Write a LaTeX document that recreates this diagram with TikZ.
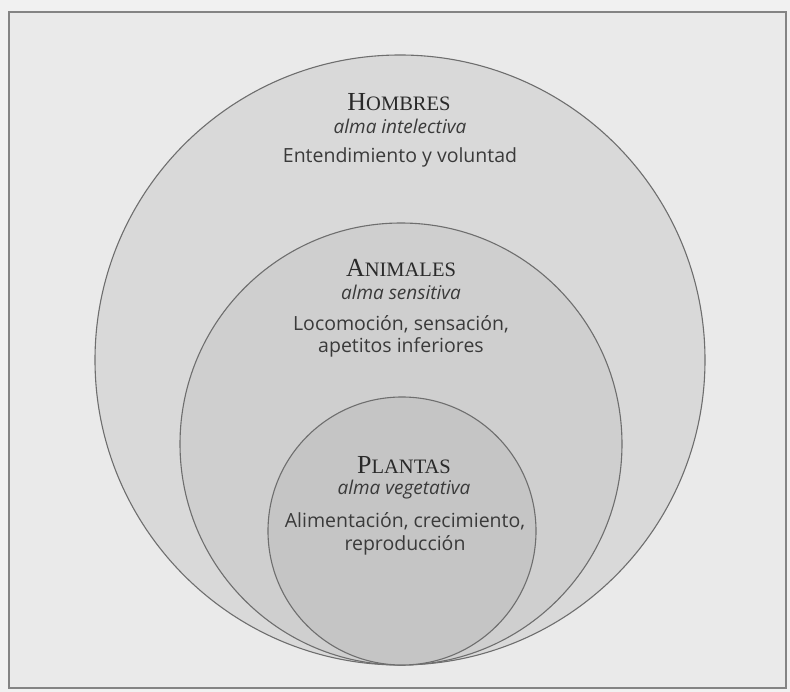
\documentclass[tikz,border=0pt]{standalone}
\usepackage{fontspec}
\setsansfont{Open Sans}
\newfontfamily\titlefont{Liberation Serif}
\newcommand{\scsm}[1]{{\fontsize{20.5}{20.5}\selectfont #1}}
\definecolor{paper}{HTML}{F1F1F1}
\definecolor{framebg}{HTML}{EAEAEA}
\definecolor{ringA}{HTML}{D9D9D9}
\definecolor{ringB}{HTML}{CFCFCF}
\definecolor{ringC}{HTML}{C5C5C5}
\definecolor{edge}{HTML}{6E6E6E}
\definecolor{ink}{HTML}{3A3A3A}
\definecolor{tink}{HTML}{2A2A2A}
\begin{document}
\begin{tikzpicture}[x=1pt,y=-1pt,
  soul/.style={circle,draw=edge,line width=1.1pt,inner sep=0pt},
  title/.style={text=tink,font=\titlefont\fontsize{26}{26}\selectfont,inner sep=0pt},
  kind/.style={text=ink,font=\sffamily\itshape\fontsize{19}{19}\selectfont,inner sep=0pt},
  body/.style={text=ink,font=\sffamily\fontsize{19.5}{19.5}\selectfont,inner sep=0pt}]
\fill[paper] (0,0) rectangle (790,692);
\useasboundingbox (0,0) rectangle (790,692);
\node[draw=edge!85,line width=2pt,fill=framebg,minimum width=777pt,minimum height=676pt,inner sep=0pt] (frame) at (397.5,350) {};
\node[soul,fill=ringA,minimum size=610pt] (hombres) at (400,360) {};
\node[soul,fill=ringB,minimum size=442pt] (animales) at (401,444) {};
\node[soul,fill=ringC,minimum size=268pt] (plantas) at (402,531) {};
\node[title] (t1) at (399,102) {H\scsm{OMBRES}};
\node[kind] (k1) at (400,126) {alma intelectiva};
\node[body] (b1) at (400,157) {Entendimiento y voluntad};
\node[title] (t2) at (401,268) {A\scsm{NIMALES}};
\node[kind] (k2) at (401,292) {alma sensitiva};
\node[body] (b2) at (401,324) {Locomoción, sensación,};
\node[body] (b2b) at (401,347) {apetitos inferiores};
\node[title] (t3) at (404,465) {P\scsm{LANTAS}};
\node[kind] (k3) at (404,490) {alma vegetativa};
\node[body] (b3) at (405,521) {Alimentación, crecimiento,};
\node[body] (b3b) at (405,545) {reproducción};
\end{tikzpicture}
\end{document}
